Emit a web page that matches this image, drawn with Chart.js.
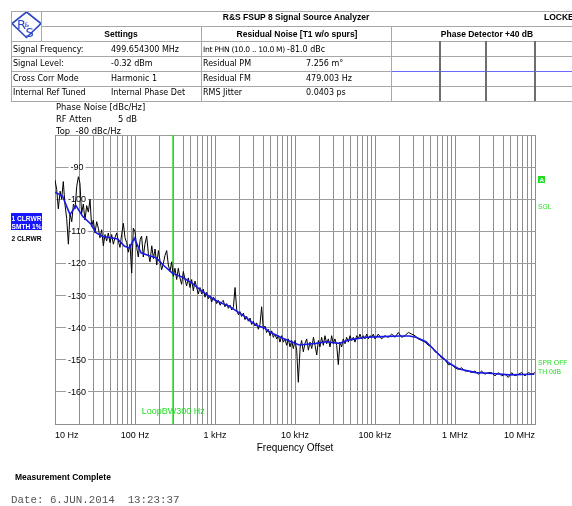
<!DOCTYPE html>
<html>
<head>
<meta charset="utf-8">
<script src="https://cdn.jsdelivr.net/npm/chart.js@4.4.1/dist/chart.umd.min.js"></script>
<style>
  html, body { margin: 0; padding: 0; background: #fff; }
  #page { position: relative; width: 572px; height: 506px; overflow: hidden; }
  #c { position: absolute; left: 0; top: 0; }
  .t { position: absolute; white-space: pre; line-height: 1; transform: translateY(-50%);
       font: 8px 'DejaVu Sans', Verdana, sans-serif; color: #000; }
  .b { font: bold 8.5px 'Liberation Sans', Arial, sans-serif; }
  .ln { position: absolute; background: #a8a8a8; }
</style>
</head>
<body>
<div id="page">
  <canvas id="c" width="572" height="506"></canvas>
  <svg style="position:absolute;left:11px;top:11px" width="31" height="29">
    <polygon points="15.5,1 30,12.5 15.5,26.5 1,12.5" fill="#fff" stroke="#2b48c8" stroke-width="1.6"/>
    <text x="6" y="17.5" font-family="DejaVu Sans" font-size="13" fill="#2b48c8">R</text>
    <text x="14.5" y="26" font-family="DejaVu Sans" font-size="13" fill="#2b48c8">S</text>
    <text x="13.5" y="16" font-family="DejaVu Sans" font-size="6" fill="#2b48c8">&amp;</text>
  </svg>
</div>
<script>
/* Phase noise plot, R&S FSUP style */
const FONT = "'Liberation Sans', Arial, sans-serif";
const GREEN = '#22dd22';

// x axis: offset frequency (Hz), y axis: dBc/Hz
const freqTickValues = [10, 100, 1e3, 1e4, 1e5, 1e6, 1e7];
const freqTickLabels = ['10 Hz', '100 Hz', '1 kHz', '10 kHz', '100 kHz', '1 MHz', '10 MHz'];
const levelLabels = [-90, -100, -110, -120, -130, -140, -150, -160];
const loopBw = 300;

// trace 1: raw measurement (black)
const rawHz = [
  1.00e1, 1.05e1, 1.10e1, 1.16e1, 1.21e1, 1.27e1, 1.33e1, 1.40e1, 1.47e1, 1.54e1, 1.62e1, 1.70e1, 1.78e1, 1.87e1, 1.96e1, 2.05e1,
  2.15e1, 2.26e1, 2.37e1, 2.49e1, 2.61e1, 2.74e1, 2.87e1, 3.01e1, 3.16e1, 3.32e1, 3.48e1, 3.65e1, 3.83e1, 4.02e1, 4.22e1, 4.42e1,
  4.64e1, 4.87e1, 5.11e1, 5.36e1, 5.62e1, 5.90e1, 6.19e1, 6.49e1, 6.81e1, 7.15e1, 7.50e1, 7.87e1, 8.25e1, 8.66e1, 9.09e1, 9.53e1,
  1.00e2, 1.05e2, 1.10e2, 1.16e2, 1.21e2, 1.27e2, 1.33e2, 1.40e2, 1.47e2, 1.54e2, 1.62e2, 1.70e2, 1.78e2, 1.87e2, 1.96e2, 2.05e2,
  2.15e2, 2.26e2, 2.37e2, 2.49e2, 2.61e2, 2.74e2, 2.87e2, 3.01e2, 3.16e2, 3.32e2, 3.48e2, 3.65e2, 3.83e2, 4.02e2, 4.22e2, 4.42e2,
  4.64e2, 4.87e2, 5.11e2, 5.36e2, 5.62e2, 5.90e2, 6.19e2, 6.49e2, 6.81e2, 7.15e2, 7.50e2, 7.87e2, 8.25e2, 8.66e2, 9.09e2, 9.53e2,
  1.00e3, 1.05e3, 1.10e3, 1.16e3, 1.21e3, 1.27e3, 1.33e3, 1.40e3, 1.47e3, 1.54e3, 1.62e3, 1.70e3, 1.78e3, 1.87e3, 1.96e3, 2.05e3,
  2.15e3, 2.26e3, 2.37e3, 2.49e3, 2.61e3, 2.74e3, 2.87e3, 3.01e3, 3.16e3, 3.32e3, 3.48e3, 3.65e3, 3.83e3, 4.02e3, 4.22e3, 4.42e3,
  4.64e3, 4.87e3, 5.11e3, 5.36e3, 5.62e3, 5.90e3, 6.19e3, 6.49e3, 6.81e3, 7.15e3, 7.50e3, 7.87e3, 8.25e3, 8.66e3, 9.09e3, 9.53e3,
  1.00e4, 1.05e4, 1.10e4, 1.16e4, 1.21e4, 1.27e4, 1.33e4, 1.40e4, 1.47e4, 1.54e4, 1.62e4, 1.70e4, 1.78e4, 1.87e4, 1.96e4, 2.05e4,
  2.15e4, 2.26e4, 2.37e4, 2.49e4, 2.61e4, 2.74e4, 2.87e4, 3.01e4, 3.16e4, 3.32e4, 3.48e4, 3.65e4, 3.83e4, 4.02e4, 4.22e4, 4.42e4,
  4.64e4, 4.87e4, 5.11e4, 5.36e4, 5.62e4, 5.90e4, 6.19e4, 6.49e4, 6.81e4, 7.15e4, 7.50e4, 7.87e4, 8.25e4, 8.66e4, 9.09e4, 9.53e4,
  1.00e5, 1.10e5, 1.21e5, 1.33e5, 1.47e5, 1.62e5, 1.78e5, 1.96e5, 2.15e5, 2.37e5, 2.61e5, 2.87e5,
  3.16e5, 3.48e5, 3.83e5, 4.22e5, 4.64e5, 5.11e5, 5.62e5, 6.19e5, 6.81e5, 7.50e5, 8.25e5, 9.09e5,
  1.00e6, 1.10e6, 1.21e6, 1.33e6, 1.47e6, 1.62e6, 1.78e6, 1.96e6, 2.15e6, 2.37e6, 2.61e6, 2.87e6,
  3.16e6, 3.48e6, 3.83e6, 4.22e6, 4.64e6, 5.11e6, 5.62e6, 6.19e6, 6.81e6, 7.50e6, 8.25e6, 9.09e6,
  1.00e7
];
const rawDbc = [
  -94, -97, -103, -97.5, -100, -94.5, -101.5, -106, -114, -104.5, -107, -101.5, -103, -96, -93, -95,
  -104.5, -101.5, -106.5, -102, -104, -100, -108.5, -106.5, -110.5, -107, -109, -112, -109.5, -114.5, -111, -113,
  -110.5, -113.5, -111, -114, -112, -110.5, -113, -115, -111, -107.5, -112, -113.5, -116.5, -114, -123, -109,
  -110, -115, -118, -112.5, -111.5, -118, -114, -111.5, -117, -119.5, -114.5, -118.5, -115.5, -120.5, -116, -119,
  -122, -120, -117.5, -116, -120.5, -122.5, -119.5, -124, -121.5, -125, -121.5, -124.5, -126.5, -122.5, -125, -127,
  -124.5, -127.5, -125, -128.5, -125.5, -127.5, -129.5, -127.5, -129.5, -128, -130.5, -129, -131, -130, -132, -130.5,
  -131, -132.5, -131.5, -133, -132, -131.5, -133.5, -132.5, -134, -133, -134.5, -133.5, -127.5, -134.5, -136, -135,
  -136.5, -135.5, -137.5, -136.5, -138, -137, -139, -138, -139.5, -138.5, -140.5, -139, -133.5, -140.5, -139.5, -141.5,
  -140.5, -142.5, -141, -143, -142, -143.5, -142.5, -144.5, -142.5, -144.5, -143.5, -145.5, -143.5, -146, -144, -146.5,
  -144, -147, -157, -146, -144, -147.5, -145, -143.5, -147, -144.5, -146.5, -143, -145.5, -148.5, -144, -146,
  -143, -145.5, -142.5, -145, -143.5, -146, -142.5, -145, -143.5, -145.5, -151.5, -144.5, -146, -143.5, -145, -143,
  -144.5, -142.5, -144, -143, -144.5, -142.5, -143.5, -142, -143.5, -142.5, -143.5, -142, -143.5, -142.5, -143, -142,
  -143.5, -142, -143.5, -142.5, -143, -142, -143, -141.5, -143, -142.5, -141.5, -142,
  -142.5, -143.5, -144, -144.5, -145.5, -146, -147.5, -148, -149.5, -150, -151.5, -151.5,
  -152.5, -153, -152.5, -153.5, -153.5, -154, -153.5, -154.5, -153.5, -154.5, -154, -154,
  -155, -154, -155, -154.5, -155.5, -154, -155, -154.5, -154, -155, -154, -154.5,
  -154
];

// trace 2: smoothed (blue)
const smoothHz = [
  10, 12.4, 15.4, 18.3, 22.1, 28.2, 32.5, 39.4, 50.1, 60.6, 73.5, 84.9, 98, 119, 151, 183, 232, 295, 394, 525, 700, 849,
  980, 1199, 1510, 1900, 2323, 2843, 3379, 4130, 4775, 7000, 11320, 18300, 24400, 35800, 47700, 77200,
  124500, 201300, 268500, 325500, 434000, 525000, 636800, 848500, 1132000, 1830000, 2685000, 4775000, 7000000, 9800000
];
const smoothDbc = [
  -97.8, -99.0, -104.8, -102.0, -105.3, -107.8, -110.4, -111.6, -112.0, -112.4, -114.6, -115.2, -112.2, -116.7, -117.6, -118.2, -120.8, -123.1, -124.3, -126.3, -128.8, -130.3,
  -131.3, -132.3, -133.3, -135.0, -136.4, -138.2, -139.4, -140.0, -141.3, -143.3, -145.4, -144.9, -144.4, -144.9, -143.8, -143.0,
  -142.8, -142.6, -142.6, -143.0, -144.4, -146.4, -148.5, -151.1, -152.9, -154.0, -154.2, -154.7, -154.6, -154.5
];

const page = document.getElementById('page');

function put(text, x, y, cls, style) {
  const d = document.createElement('div');
  d.className = 't' + (cls ? ' ' + cls : '');
  d.textContent = text;
  d.style.left = x + 'px';
  d.style.top = y + 'px';
  if (style) Object.assign(d.style, style);
  page.appendChild(d);
  return d;
}
function line(x, y, w, h, color) {
  const d = document.createElement('div');
  d.className = 'ln';
  Object.assign(d.style, { left: x + 'px', top: y + 'px', width: w + 'px', height: h + 'px' });
  if (color) d.style.background = color;
  page.appendChild(d);
}

// header table
line(11, 11, 561, 1);
line(11, 11, 1, 91);
line(41, 11, 1, 31);
line(41, 26, 531, 1);
[41, 56, 86, 101].forEach(y => line(11, y, 561, 1));
line(11, 71, 380, 1);
line(391, 71, 181, 1, '#6a6aff');
line(201, 26, 1, 75);
line(391, 26, 1, 75);
[439, 485, 534].forEach(x => line(x, 41, 2, 60, '#6e6e6e'));

const mid = { transform: 'translate(-50%,-50%)' };
put('R&S FSUP 8 Signal Source Analyzer', 296, 17, 'b', mid);
put('LOCKED', 544, 17, 'b');
put('Settings', 121, 33.5, 'b', mid);
put('Residual Noise [T1 w/o spurs]', 297, 33.5, 'b', mid);
put('Phase Detector +40 dB', 487, 33.5, 'b', mid);

const rowY = [48.5, 63, 77.5, 92];
['Signal Frequency:', 'Signal Level:', 'Cross Corr Mode', 'Internal Ref Tuned'].forEach((s, i) => put(s, 13, rowY[i]));
['499.654300 MHz', '-0.32 dBm', 'Harmonic 1', 'Internal Phase Det'].forEach((s, i) => put(s, 111, rowY[i]));
put('Int PHN (10.0 .. 10.0 M)', 203, rowY[0], '', { fontSize: '7.6px', letterSpacing: '-0.3px' });
['Residual PM', 'Residual FM', 'RMS Jitter'].forEach((s, i) => put(s, 203, rowY[i + 1]));
['-81.0 dBc', '7.256 m\u00b0', '479.003 Hz', '0.0403 ps'].forEach((s, i) => put(s, i === 0 ? 287 : 306, rowY[i]));

// trace info above the diagram
const info = { fontSize: '8.4px' };
put('Phase Noise [dBc/Hz]', 56, 106.5, '', info);
put('RF Atten', 56, 118.5, '', info);
put('5 dB', 118, 118.5, '', info);
put('Top  -80 dBc/Hz', 56, 130.5, '', info);

// side markers
const trBox = document.createElement('div');
Object.assign(trBox.style, { position: 'absolute', left: '11px', top: '213px', width: '31px', height: '17px', background: '#1616ff' });
page.appendChild(trBox);
const small = { font: "bold 6.6px 'Liberation Sans', Arial, sans-serif" };
put('1 CLRWR', 11.5, 217.5, '', Object.assign({ color: '#fff' }, small));
put('SMTH 1%', 11.5, 226, '', Object.assign({ color: '#fff' }, small));
put('2 CLRWR', 11.5, 238, '', small);

const aBox = document.createElement('div');
Object.assign(aBox.style, { position: 'absolute', left: '538px', top: '176px', width: '7px', height: '7px', background: GREEN });
page.appendChild(aBox);
put('A', 539.5, 179.8, '', { font: "bold 6px 'Liberation Sans', Arial, sans-serif", color: '#fff' });
const gsm = { font: "6.8px 'Liberation Sans', Arial, sans-serif", color: GREEN };
put('SGL', 538, 206, '', gsm);
put('SPR OFF', 538, 362, '', gsm);
put('TH 0dB', 538, 371, '', gsm);

put('Measurement Complete', 15, 477, 'b');
put('Date: 6.JUN.2014  13:23:37', 11, 500, '', { font: "10.8px 'Liberation Mono', 'DejaVu Sans Mono', monospace", color: '#555' });

// level labels sit inside the grid, over a white gap in the line
const levelLabelPlugin = {
  id: 'levelLabels',
  beforeDatasetsDraw(chart) {
    const { ctx, chartArea, scales } = chart;
    const cx = chartArea.left + 22;
    ctx.save();
    ctx.font = '9px ' + FONT;
    ctx.textAlign = 'center';
    ctx.textBaseline = 'middle';
    levelLabels.forEach(v => {
      const py = scales.y.getPixelForValue(v);
      const w = ctx.measureText(String(v)).width + 4;
      ctx.fillStyle = '#fff';
      ctx.fillRect(cx - w / 2, py - 1.5, w, 3);
      ctx.fillStyle = '#000';
      ctx.fillText(String(v), cx, py + 0.5);
    });
    ctx.fillStyle = GREEN;
    ctx.fillText('LoopBW300 Hz', scales.x.getPixelForValue(loopBw), chartArea.bottom - 12);
    ctx.restore();
  }
};

const gridFreqs = [];
for (let e = 1; e < 7; e++) {
  for (let m = 1; m < 10; m++) gridFreqs.push(m * Math.pow(10, e));
}
gridFreqs.push(1e7);

new Chart(document.getElementById('c'), {
  type: 'line',
  data: {
    datasets: [
      {
        label: 'Smoothed',
        data: smoothHz.map((f, i) => ({ x: f, y: smoothDbc[i] })),
        borderColor: '#1a1ae6',
        borderWidth: 1.6,
        pointRadius: 0,
        tension: 0
      },
      {
        label: 'Trace',
        data: rawHz.map((f, i) => ({ x: f, y: rawDbc[i] })),
        borderColor: '#000',
        borderWidth: 1,
        pointRadius: 0,
        tension: 0
      },
      {
        label: 'Loop BW',
        data: [{ x: loopBw, y: -80 }, { x: loopBw, y: -170 }],
        borderColor: GREEN,
        borderWidth: 1,
        pointRadius: 0
      }
    ]
  },
  options: {
    responsive: false,
    devicePixelRatio: 1,
    animation: false,
    layout: { padding: { left: 55, right: 37, top: 135, bottom: 48 } },
    plugins: { legend: { display: false }, tooltip: { enabled: false } },
    scales: {
      x: {
        type: 'logarithmic',
        position: 'bottom',
        min: 10,
        max: 1e7,
        afterBuildTicks(scale) { scale.ticks = gridFreqs.map(v => ({ value: v })); },
        afterFit(scale) { scale.height = 34; },
        ticks: {
          autoSkip: false,
          maxRotation: 0,
          minRotation: 0,
          align: 'inner',
          padding: 6,
          color: '#000',
          font: { family: FONT, size: 9 },
          callback(value) {
            const i = freqTickValues.indexOf(value);
            return i >= 0 ? freqTickLabels[i] : '';
          }
        },
        grid: { color: '#8e8e8e', drawTicks: false },
        border: { color: '#8e8e8e' },
        title: {
          display: true,
          text: 'Frequency Offset',
          color: '#000',
          font: { family: FONT, size: 10 },
          padding: { top: 0, bottom: 4 }
        }
      },
      y: {
        type: 'linear',
        position: 'left',
        min: -170,
        max: -80,
        afterFit(scale) { scale.width = 0; },
        ticks: { stepSize: 10, display: false },
        grid: { color: '#9c9c9c', drawTicks: false },
        border: { color: '#8e8e8e' }
      }
    }
  },
  plugins: [levelLabelPlugin]
});
</script>
</body>
</html>
